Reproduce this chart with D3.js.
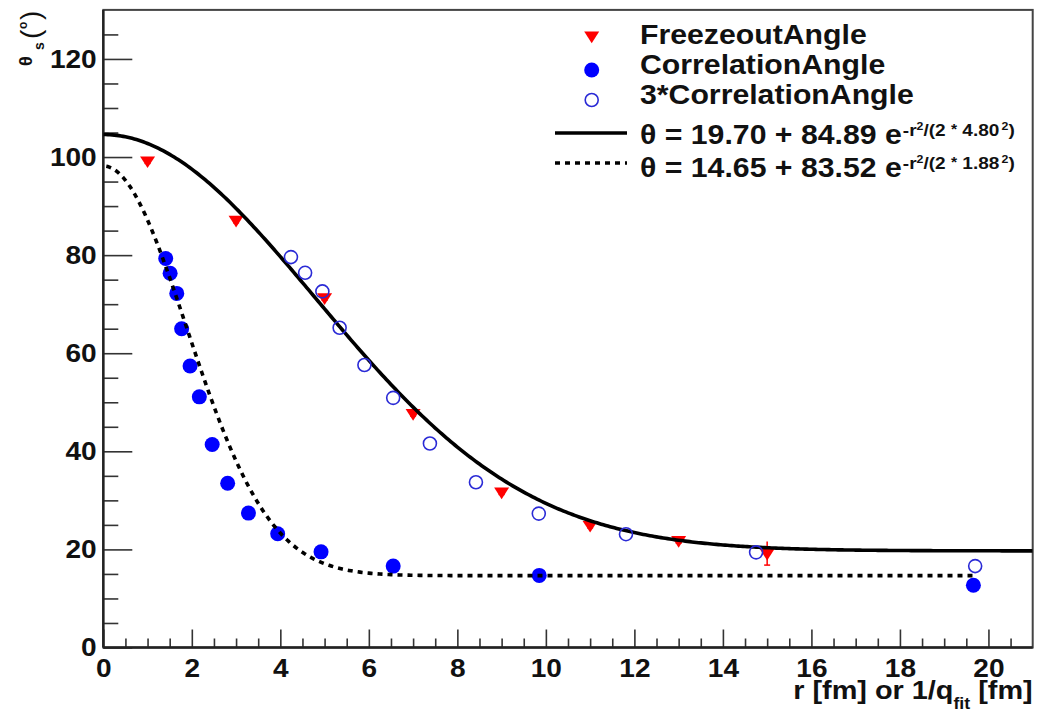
<!DOCTYPE html>
<html>
<head>
<meta charset="utf-8">
<script src="https://cdn.jsdelivr.net/npm/d3@7"></script>
<style>
  html, body { margin: 0; padding: 0; background: #fff; }
  svg { display: block; }
  text { font-family: "Liberation Sans", Arial, Helvetica, sans-serif; font-weight: bold; fill: #111; white-space: pre; }
</style>
</head>
<body>
<svg id="chart" width="1045" height="716"></svg>
<script>
// Freeze-out angle vs. r
const freezeR     = [1.0, 3.0, 5.0, 7.0, 9.0, 11.0, 13.0, 15.0];
const freezeTheta = [99.2, 87.1, 71.3, 47.7, 31.7, 24.9, 21.8, 19.2];
const freezeErr   = [0.5, 0.5, 0.5, 0.5, 0.5, 0.5, 0.5, 2.4];

// Correlation angle vs. 1/q_fit
const corrR     = [1.41, 1.51, 1.66, 1.77, 1.96, 2.17, 2.46, 2.81, 3.28, 3.94, 4.92, 6.55, 9.85, 19.66];
const corrTheta = [79.3, 76.3, 72.2, 65.0, 57.4, 51.1, 41.4, 33.5, 27.4, 23.2, 19.5, 16.6, 14.7, 12.7];

// Correlation angle vs. 3 * (1/q_fit)
const corr3R     = [4.24, 4.56, 4.95, 5.34, 5.90, 6.55, 7.38, 8.42, 9.84, 11.81, 14.75, 19.70];
const corr3Theta = [79.6, 76.4, 72.6, 65.2, 57.6, 50.9, 41.6, 33.7, 27.3, 23.1, 19.4, 16.6];

// Gaussian fit parameters: [offset, amplitude, sigma]
const fitFreeze = [19.70, 84.89, 4.80];
const fitCorr   = [14.65, 83.52, 1.88];

// Axis ticks
const xMajor = [0, 2, 4, 6, 8, 10, 12, 14, 16, 18, 20];
const xMinor = d3.range(0.5, 21, 0.5).filter(v => v % 2 !== 0);
const yMajor = [0, 20, 40, 60, 80, 100, 120];
const yMinor = d3.range(5, 130, 5).filter(v => v % 20 !== 0);

const legendLabels = ["FreezeoutAngle", "CorrelationAngle", "3*CorrelationAngle"];

const svg = d3.select("#chart");
const x = d3.scaleLinear().domain([0, 21]).range([103.3, 1032.7]);
const y = d3.scaleLinear().domain([0, 130]).range([647.5, 9.9]);

const gauss = p => r => p[0] + p[1] * Math.exp(-r * r / (2 * p[2] * p[2]));
const SX = 1.1;   // horizontal glyph stretch of the Helvetica-style lettering

// frame
svg.append("rect")
  .attr("x", x(0)).attr("y", y(130))
  .attr("width", x(21) - x(0)).attr("height", y(0) - y(130))
  .attr("fill", "none").attr("stroke", "#444").attr("stroke-width", 2);

// x axis
svg.append("g").attr("transform", `translate(0,${y(0)})`)
  .call(d3.axisBottom(x).tickValues(xMajor).tickSize(-18).tickPadding(11).tickFormat(d3.format("d")));
svg.append("g").attr("transform", `translate(0,${y(0)})`)
  .call(d3.axisBottom(x).tickValues(xMinor).tickSize(-9).tickFormat(""));

// y axis
svg.append("g").attr("transform", `translate(${x(0)},0)`)
  .call(d3.axisLeft(y).tickValues(yMajor).tickSize(-29).tickPadding(6).tickFormat(d3.format("d")));
svg.append("g").attr("transform", `translate(${x(0)},0)`)
  .call(d3.axisLeft(y).tickValues(yMinor).tickSize(-15).tickFormat(""));

svg.selectAll(".domain").remove();
svg.selectAll(".tick line").attr("stroke", "#333").attr("stroke-width", 1.6);
svg.selectAll(".tick text").attr("font-size", 25.5).attr("fill", "#111")
  .attr("transform", `scale(${SX},1)`)
  .style("font-family", "'Liberation Sans', Arial, sans-serif").style("font-weight", "bold");

// axis lines
svg.append("line").attr("x1", x(0)).attr("x2", x(21)).attr("y1", y(0)).attr("y2", y(0))
  .attr("stroke", "#222").attr("stroke-width", 2.4);
svg.append("line").attr("x1", x(0)).attr("x2", x(0)).attr("y1", y(0)).attr("y2", y(130))
  .attr("stroke", "#222").attr("stroke-width", 2.4);

// axis titles
const xt = svg.append("text").attr("transform", `translate(${x(21)},699) scale(1.11,1)`)
  .attr("text-anchor", "end").attr("font-size", 26);
xt.append("tspan").text("r [fm] or 1/q");
xt.append("tspan").attr("font-size", 16).attr("dy", 10).text("fit");
xt.append("tspan").attr("dy", -10).text(" [fm]");

// θ_s(°) — placed along the rotated baseline
const yt = svg.append("text").attr("transform", "rotate(-90)");
yt.append("tspan").attr("x", -66).attr("y", 32).attr("font-size", 18).text("θ");
yt.append("tspan").attr("x", -50).attr("y", 44).attr("font-size", 14).text("s");
yt.append("tspan").attr("x", -39).attr("y", 40).attr("font-size", 28).attr("font-weight", "normal").text("(");
yt.append("tspan").attr("x", -29).attr("y", 27).attr("font-size", 12).text("o");
yt.append("tspan").attr("x", -20).attr("y", 40).attr("font-size", 28).attr("font-weight", "normal").text(")");

// clip for curves
svg.append("clipPath").attr("id", "plotclip").append("rect")
  .attr("x", x(0)).attr("y", y(130)).attr("width", x(21) - x(0)).attr("height", y(0) - y(130));

const line = d3.line().x(d => x(d[0])).y(d => y(d[1]));

// downward triangle marker
const triPath = s => `M${-s},${-s * 0.6}L${s},${-s * 0.6}L0,${s * 0.95}Z`;
function drawFreeze(g, px, py) {
  g.append("path").attr("transform", `translate(${px},${py})`).attr("d", triPath(7.5)).attr("fill", "#ff0000");
}

// freeze-out points with error bars
const gF = svg.append("g");
freezeR.forEach((r, i) => {
  const lo = y(freezeTheta[i] - freezeErr[i]), hi = y(freezeTheta[i] + freezeErr[i]);
  gF.append("line").attr("x1", x(r)).attr("x2", x(r)).attr("y1", lo).attr("y2", hi)
    .attr("stroke", "#ff0000").attr("stroke-width", 1.5);
  gF.append("line").attr("x1", x(r) - 3).attr("x2", x(r) + 3).attr("y1", lo).attr("y2", lo)
    .attr("stroke", "#ff0000").attr("stroke-width", 1.5);
  drawFreeze(gF, x(r), y(freezeTheta[i]));
});

// solid fit
svg.append("path").attr("clip-path", "url(#plotclip)")
  .datum(d3.range(0, 21.001, 0.05).map(r => [r, gauss(fitFreeze)(r)]))
  .attr("d", line).attr("fill", "none").attr("stroke", "#000").attr("stroke-width", 3.6);

// correlation points
svg.append("g").selectAll("circle").data(corrR).join("circle")
  .attr("cx", d => x(d)).attr("cy", (d, i) => y(corrTheta[i])).attr("r", 7.5).attr("fill", "#0000ff");

// dotted fit
svg.append("path").attr("clip-path", "url(#plotclip)")
  .datum(d3.range(0, 19.7, 0.05).map(r => [r, gauss(fitCorr)(r)]))
  .attr("d", line).attr("fill", "none").attr("stroke", "#000").attr("stroke-width", 3.6)
  .attr("stroke-dasharray", "5,5").attr("stroke-dashoffset", -3);

// 3*correlation points
svg.append("g").selectAll("circle").data(corr3R).join("circle")
  .attr("cx", d => x(d)).attr("cy", (d, i) => y(corr3Theta[i])).attr("r", 6.5)
  .attr("fill", "none").attr("stroke", "#2a2ad6").attr("stroke-width", 1.6);

// legend
const lx = 591.7, tx = 640, LS = 1.12;
drawFreeze(svg, lx, 36);
svg.append("circle").attr("cx", lx).attr("cy", 70).attr("r", 7.5).attr("fill", "#0000ff");
svg.append("circle").attr("cx", lx).attr("cy", 100).attr("r", 6.5).attr("fill", "none")
  .attr("stroke", "#2a2ad6").attr("stroke-width", 1.6);
svg.append("line").attr("x1", 555).attr("x2", 627).attr("y1", 133).attr("y2", 133)
  .attr("stroke", "#000").attr("stroke-width", 3.6);
svg.append("line").attr("x1", 555).attr("x2", 627).attr("y1", 163).attr("y2", 163)
  .attr("stroke", "#000").attr("stroke-width", 3.6).attr("stroke-dasharray", "5,5");

const baselines = [44, 74, 104];
legendLabels.forEach((t, i) => {
  svg.append("text").attr("transform", `translate(${tx},${baselines[i]}) scale(${LS},1)`)
    .attr("font-size", 27).text(t);
});

// fit formula with a raised exponent
function fitLabel(p, yb) {
  const t = svg.append("text").attr("transform", `translate(${tx},${yb}) scale(${LS},1)`).attr("font-size", 27);
  t.append("tspan").text(`θ = ${p[0].toFixed(2)} + ${p[1].toFixed(2)} e`);
  t.append("tspan").attr("font-size", 17).attr("dy", -8).attr("dx", 1).text("-r");
  t.append("tspan").attr("font-size", 11).attr("dy", -6).text("2");
  t.append("tspan").attr("font-size", 17).attr("dy", 6).text("/(2 ");
  t.append("tspan").attr("font-size", 14).attr("dy", -2).text("*");
  t.append("tspan").attr("font-size", 17).attr("dy", 2).text(` ${p[2].toFixed(2)}`);
  t.append("tspan").attr("font-size", 11).attr("dy", -6).attr("dx", 2).text("2");
  t.append("tspan").attr("font-size", 17).attr("dy", 6).text(")");
}
fitLabel(fitFreeze, 144);
fitLabel(fitCorr, 177);
</script>
</body>
</html>
